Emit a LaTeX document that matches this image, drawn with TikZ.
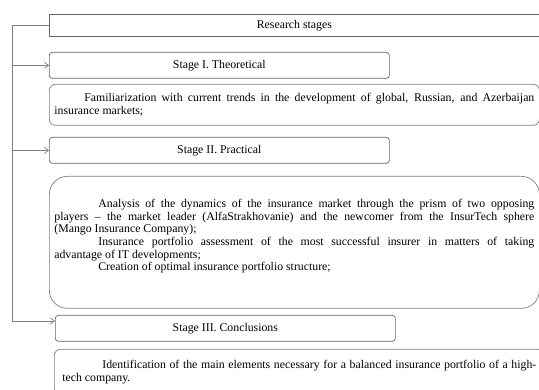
\documentclass[tikz,border=0pt]{standalone}
\usepackage{fontspec}
\setmainfont{Liberation Serif}
\usetikzlibrary{arrows.meta}

\tikzset{
  stagebox/.style={draw=black!60, line width=0.7pt, rounded corners=3pt,
    minimum width=340pt, minimum height=26pt, anchor=north west, inner sep=0pt},
  txtbox/.style={draw=black!50, line width=0.7pt, rounded corners=6pt,
    anchor=north west, inner xsep=4pt, inner ysep=6pt},
  spine/.style={draw=black!50, line width=0.7pt},
  feed/.style={spine, -{Straight Barb[length=4pt,width=6pt]}},
}

\begin{document}
\begin{tikzpicture}[x=1pt, y=-1pt, font=\fontsize{11.8pt}{12.6pt}\selectfont]
  \useasboundingbox (0,0) rectangle (539,390);
  \clip (0,0) rectangle (539,390);

  % Heading
  \node [draw=black!60, line width=0.7pt, anchor=north west, minimum width=490pt,
    minimum height=22pt, inner sep=0pt] (research) at (49,14) {Research stages};

  % Stage I
  \node [stagebox] (stageI) at (49,52) {Stage I. Theoretical};
  \node [txtbox, minimum width=490pt, minimum height=41pt] (taskI) at (49,84)
    {\parbox{480pt}{\setlength{\parindent}{30pt}Familiarization with current trends in the development of global, Russian, and Azerbaijan\linebreak insurance markets;}};

  % Stage II
  \node [stagebox] (stageII) at (49,137) {Stage II. Practical};
  \node [txtbox, rounded corners=18pt, minimum width=490pt, minimum height=132pt] (taskII) at (49,176)
    {\parbox[t][120pt][t]{480pt}{\vspace*{17pt}\setlength{\parindent}{44pt}%
      Analysis of the dynamics of the insurance market through the prism of two opposing\linebreak
      players -- the market leader (AlfaStrakhovanie) and the newcomer from the InsurTech sphere\linebreak
      (Mango Insurance Company);\par
      Insurance portfolio assessment of the most successful insurer in matters of taking\linebreak
      advantage of IT developments;\par
      Creation of optimal insurance portfolio structure;}};

  % Stage III
  \node [stagebox] (stageIII) at (55,315) {Stage III. Conclusions};
  \node [txtbox, minimum width=490pt, minimum height=45pt] (taskIII) at (54,349)
    {\parbox{474pt}{\setlength{\parindent}{40pt}Identification of the main elements necessary for a balanced insurance portfolio of a high-\linebreak tech company.}};

  % Connectors
  \coordinate (spinetop) at (12,25);
  \coordinate (spinebot) at (12,321);
  \draw [spine] (research.west) -- (research.west -| spinetop) -- (spinebot);
  \draw [feed] (spinetop |- stageI.west) -- (stageI.west);
  \draw [feed] (spinetop |- stageII.west) -- (stageII.west);
  \draw [feed] (spinebot) -- (spinebot -| stageIII.west);
\end{tikzpicture}
\end{document}
